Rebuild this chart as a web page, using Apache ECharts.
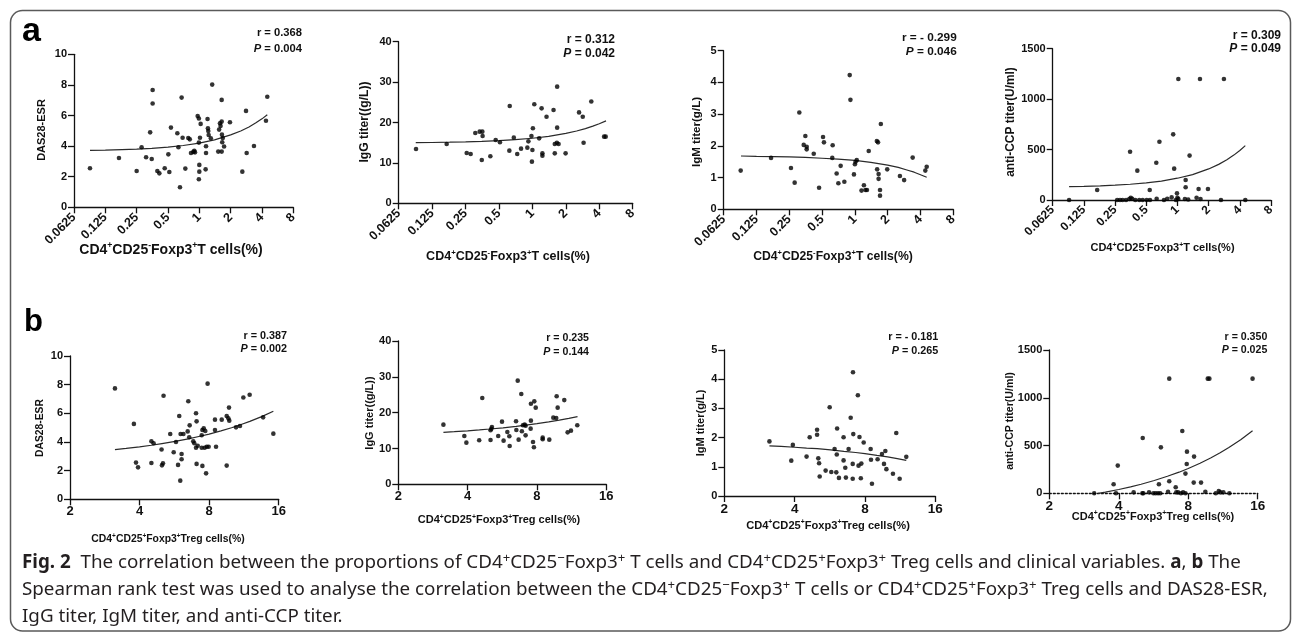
<!DOCTYPE html>
<html><head><meta charset="utf-8">
<script src="https://cdn.jsdelivr.net/npm/echarts@6/dist/echarts.min.js"></script>
<style>html,body{margin:0;padding:0;background:#fff}#c{width:1295px;height:634px}</style>
</head><body><div id="c"></div>
<script>
// ---------------- data ----------------
const xTicksA = [0.0625, 0.125, 0.25, 0.5, 1, 2, 4, 8];
const xTickLabelsA = ['0.0625', '0.125', '0.25', '0.5', '1', '2', '4', '8'];
const xTicksB = [2, 4, 8, 16];
const xTickLabelsB = ['2', '4', '8', '16'];

// a1: DAS28-ESR vs CD4+CD25-Foxp3+ T cells
const a1X = [0.089,0.169,0.25,0.279,0.308,0.337,0.349,0.356,0.356,0.395,0.413,0.465,0.504,0.515,0.534,0.615,0.63,0.652,0.676,0.691,0.734,0.784,0.81,0.832,0.876,0.895,0.909,0.964,0.99,0.99,1.0,1.0,0.99,1.015,1.03,1.15,1.16,1.16,1.20,1.21,1.22,1.23,1.29,1.33,1.52,1.55,1.58,1.60,1.64,1.64,1.64,1.65,1.66,1.68,1.73,1.97,2.59,2.81,2.85,3.35,4.37,4.5];
const a1Y = [2.55,3.22,2.37,3.92,3.27,4.90,3.16,7.67,6.78,2.37,2.22,2.55,3.46,2.31,5.21,4.84,3.92,1.31,7.17,4.55,2.53,4.53,4.44,3.55,3.62,3.70,3.59,5.97,5.80,4.23,2.77,2.33,1.83,4.55,5.45,2.48,3.99,3.55,5.77,5.16,4.99,4.73,4.51,8.02,3.64,5.08,5.49,5.32,5.60,7.02,3.64,4.75,4.25,4.53,3.97,5.56,2.33,6.30,3.55,4.01,5.66,7.23];
const a1FitX = [0.089,0.125,0.18,0.25,0.35,0.5,0.7,1,1.4,2,2.5,3,3.5,4,4.5];
const a1FitY = [3.72,3.74,3.77,3.80,3.85,3.93,4.04,4.20,4.41,4.73,4.99,5.25,5.52,5.78,6.05];

// a2: IgG titer vs CD4+CD25-Foxp3+ T cells
const a2X = [0.0895,0.169,0.256,0.278,0.306,0.335,0.354,0.356,0.35,0.418,0.467,0.51,0.62,0.625,0.68,0.73,0.79,0.90,0.92,0.98,0.99,1.0,1.01,1.04,1.15,1.21,1.23,1.23,1.34,1.55,1.59,1.59,1.66,1.67,1.67,1.72,1.99,2.63,2.84,2.89,3.39,4.42,4.57];
const a2Y = [13.44,14.68,12.45,12.2,17.4,17.73,17.73,16.66,10.72,11.63,15.67,15.1,13.03,24.08,16.25,12.2,13.53,13.77,15.34,16.66,10.31,13.2,18.56,24.5,16.08,23.5,12.37,11.79,21.44,23.1,12.37,14.68,15.0,28.87,18.72,14.68,12.37,22.5,21.44,15.0,25.2,16.5,16.5];
const a2FitX = [0.089,0.125,0.18,0.25,0.35,0.5,0.7,1,1.4,2,2.5,3,3.5,4,4.6];
const a2FitY = [15.0,15.05,15.12,15.2,15.32,15.5,15.74,16.1,16.58,17.29,17.89,18.49,19.09,19.69,20.4];

// a3: IgM titer vs CD4+CD25-Foxp3+ T cells
const a3X = [0.0895,0.170,0.259,0.280,0.309,0.351,0.339,0.361,0.361,0.419,0.469,0.51,0.52,0.625,0.62,0.68,0.705,0.74,0.80,0.896,0.91,0.98,1.0,1.014,1.04,1.15,1.21,1.25,1.29,1.34,1.59,1.63,1.60,1.65,1.65,1.70,1.70,1.73,1.98,2.59,2.83,3.39,4.43,4.56];
const a3Y = [1.22,1.62,1.30,0.84,3.05,2.31,2.03,1.97,1.89,1.75,0.68,2.28,2.11,2.02,1.62,1.13,0.82,1.37,0.87,4.23,3.45,1.10,1.42,1.50,1.55,0.59,0.76,0.61,0.61,1.84,2.15,2.11,1.26,1.11,0.96,0.61,0.43,2.69,1.26,1.05,0.92,1.63,1.22,1.34];
const a3FitX = [0.09,0.125,0.18,0.25,0.35,0.5,0.7,1,1.4,2,2.5,3,3.5,4,4.56];
const a3FitY = [1.68,1.67,1.66,1.65,1.64,1.61,1.58,1.54,1.48,1.39,1.32,1.24,1.17,1.09,1.01];

// a4: anti-CCP titer vs CD4+CD25-Foxp3+ T cells
const a4X = [0.09,0.168,0.262,0.279,0.296,0.319,0.343,0.349,0.354,0.366,0.392,0.41,0.428,0.462,0.505,0.54,0.543,0.625,0.63,0.67,0.741,0.797,0.879,0.91,0.93,0.967,0.99,1.0,1.02,1.02,1.18,1.2,1.2,1.27,1.31,1.53,1.6,1.65,1.67,1.97,2.63,2.81,4.52];
const a4Y = [0,99,0,0,0,0,10,479,23,13,0,291,0,0,0,99,0,370,13,578,0,13,26,651,311,0,66,23,10,1200,10,126,198,5,440,23,109,1200,10,109,0,1200,0];
const a4FitX = [0.09,0.125,0.18,0.25,0.35,0.5,0.7,1,1.4,2,2.5,3,3.5,4,4.52];
const a4FitY = [132,135,140,147,156,170,188,216,252,308,353,399,445,491,539];

// b1: DAS28-ESR vs CD4+CD25+Foxp3+ Treg cells
const b1X = [3.13,3.78,3.86,3.94,4.50,4.60,4.50,4.98,5.0,5.05,5.08,5.43,5.62,5.75,5.87,5.94,6.0,6.02,6.08,6.08,6.19,6.46,6.50,6.59,6.56,6.83,6.90,7.02,7.02,7.06,7.06,7.14,7.43,7.43,7.48,7.48,7.58,7.65,7.70,7.76,7.81,7.88,7.96,8.48,8.48,8.57,9.07,9.53,9.53,9.69,9.78,9.75,10.46,10.88,11.25,11.98,13.7,15.17];
const b1Y = [7.74,5.26,2.56,2.23,4.05,3.91,2.53,3.47,2.37,2.51,7.23,4.56,3.28,4.0,2.40,5.81,1.30,4.56,3.16,2.79,4.56,4.74,6.84,5.16,4.33,4.05,3.91,6.0,3.6,5.44,2.47,3.74,4.47,3.6,4.84,2.33,4.95,3.6,4.77,1.81,3.67,8.07,3.67,5.56,4.84,3.67,5.56,2.35,5.81,5.65,5.49,6.4,5.02,5.12,7.1,7.3,5.72,4.58];
const b1FitX = [3.13,3.5,4,4.5,5,5.7,6.5,7.3,8,9,10,11,12,13.5,15.17];
const b1FitY = [3.47,3.55,3.66,3.77,3.89,4.04,4.22,4.40,4.55,4.77,4.99,5.22,5.44,5.77,6.14];

// b2: IgG titer vs CD4+CD25+Foxp3+ Treg cells
const b2X = [3.14,3.87,3.95,4.49,4.63,5.03,5.03,5.10,5.07,5.43,5.64,5.73,5.95,6.07,6.09,6.49,6.51,6.60,6.66,6.84,6.88,6.95,7.07,7.14,7.14,7.51,7.53,7.53,7.69,7.79,7.76,7.90,8.47,8.47,9.05,9.42,9.70,9.74,9.84,10.51,10.87,11.24,11.97];
const b2Y = [16.65,13.49,11.63,12.28,24.1,12.37,15.07,16.0,15.5,13.49,17.49,12.19,14.6,13.4,10.7,17.58,15.16,28.93,12.47,25.2,14.79,16.47,16.65,13.67,16.37,15.53,22.5,17.77,11.81,23.16,10.33,21.4,13.02,12.56,12.47,18.6,18.5,24.56,21.4,23.5,14.5,14.98,16.47];
const b2FitX = [3.14,3.5,4,4.5,5,5.7,6.5,7.3,8,9,10,11,12];
const b2FitY = [14.5,14.68,14.93,15.18,15.43,15.77,16.17,16.57,16.92,17.41,17.91,18.41,18.9];

// b3: IgM titer vs CD4+CD25+Foxp3+ Treg cells
const b3X = [3.12,3.87,3.93,4.50,4.64,4.99,4.99,5.05,5.09,5.12,5.43,5.65,5.74,5.93,6.03,6.06,6.08,6.19,6.48,6.48,6.59,6.63,6.81,6.95,7.11,7.09,7.09,7.13,7.46,7.51,7.58,7.68,7.72,7.9,8.46,8.49,8.57,9.06,9.46,9.65,9.78,9.88,10.54,10.89,11.26,12.02];
const b3Y = [1.87,1.21,1.75,1.35,2.01,2.27,2.10,1.29,1.12,0.67,0.87,3.04,0.82,1.61,0.81,1.42,2.31,0.62,2.01,1.22,0.97,0.63,1.61,2.68,4.24,1.10,0.59,2.12,3.45,1.04,2.02,0.61,1.11,1.83,1.61,1.24,0.42,1.26,1.44,1.10,1.54,0.92,0.76,2.16,0.59,1.34];
const b3FitX = [3.12,3.5,4,4.5,5,5.7,6.5,7.3,8,9,10,11,12.02];
const b3FitY = [1.72,1.70,1.67,1.64,1.62,1.58,1.53,1.49,1.45,1.39,1.34,1.28,1.22];

// b4: anti-CCP titer vs CD4+CD25+Foxp3+ Treg cells
const b4X = [3.13,3.80,3.96,3.89,4.64,5.08,5.06,5.11,5.41,5.65,5.78,5.92,5.97,6.09,6.05,6.54,6.62,6.62,7.06,7.10,7.23,7.44,7.54,7.60,7.78,7.88,7.90,7.78,8.45,8.48,9.09,9.49,9.72,9.88,10.53,10.85,11.04,11.36,12.06,15.2];
const b4Y = [0,94,290,0,10,579,0,0,10,0,0,0,94,481,0,17,126,1200,63,10,10,0,652,10,206,307,436,0,112,384,112,17,1200,1200,0,24,10,10,0,1200];
const b4FitX = [3.26,3.5,4,4.5,5,5.7,6.5,7.3,8,9,10,11,12,13.5,15.2];
const b4FitY = [0,13,40,68,95,134,178,221,260,315,369,424,479,561,654];

const yNames = ['DAS28-ESR', 'IgG titer((g/L))', 'IgM titer(g/L)', 'anti-CCP titer(U/ml)'];
const rTexts = ['r = 0.368', 'r = 0.312', 'r = - 0.299', 'r = 0.309', 'r = 0.387', 'r = 0.235', 'r = - 0.181', 'r = 0.350'];
const pTexts = ['0.004', '0.042', '0.046', '0.049', '0.002', '0.144', '0.265', '0.025'];
const xNameA = [['CD4', 0], ['+', 1], ['CD25', 0], ['-', 1], ['Foxp3', 0], ['+', 1], ['T cells(%)', 0]];
const xNameB = [['CD4', 0], ['+', 1], ['CD25', 0], ['+', 1], ['Foxp3', 0], ['+', 1], ['Treg cells(%)', 0]];

// ---------------- layout / style ----------------
const FONT = '"Liberation Sans", Arial, Helvetica, sans-serif';
const CAPFONT = '"Noto Sans", "Open Sans", sans-serif';
const INK = '#111';

const panels = [
  {X:a1X, Y:a1Y, FX:a1FitX, FY:a1FitY, row:'a', g:[74,54.3,219.3,153],   yMax:10,   yInt:2,   yN:[42,130,11],     xN:[171,250,14],      rp:[302,33,49,11.2],     xFs:12.5},
  {X:a2X, Y:a2Y, FX:a2FitX, FY:a2FitY, row:'a', g:[398.7,41.7,234,161.6], yMax:40,  yInt:10,  yN:[365,122,12.2],  xN:[508,256.7,12.5],  rp:[615,39.3,53.3,12],   xFs:12.5},
  {X:a3X, Y:a3Y, FX:a3FitX, FY:a3FitY, row:'a', g:[723.7,50.7,229.6,158.6], yMax:5, yInt:1,   yN:[696.7,132,11.6],xN:[833,256.7,12.2],  rp:[956.7,37.3,51.7,11.8], xFs:12.5},
  {X:a4X, Y:a4Y, FX:a4FitX, FY:a4FitY, row:'a', g:[1052.7,48.7,218.3,151.3], yMax:1500, yInt:500, yN:[1011,122,11.9], xN:[1162.5,248.3,11], rp:[1281,35.7,49,12], xFs:12},
  {X:b1X, Y:b1Y, FX:b1FitX, FY:b1FitY, row:'b', g:[70,356,208.7,143.3],   yMax:10,   yInt:2,   yN:[40,428,10.3],   xN:[168,539.3,10.4],  rp:[287,336,349,10.8],   xFs:13},
  {X:b2X, Y:b2Y, FX:b2FitX, FY:b2FitY, row:'b', g:[398.3,341,208,143.3],  yMax:40,   yInt:10,  yN:[370,413,11],     xN:[499,520,11],      rp:[589,338.3,351.7,10.6], xFs:13},
  {X:b3X, Y:b3Y, FX:b3FitX, FY:b3FitY, row:'b', g:[724.3,350,211,146],    yMax:5,    yInt:1,   yN:[700.7,423,11],  xN:[828,525.7,11.1],  rp:[938.3,337.3,350.7,10.8], xFs:13.5},
  {X:b4X, Y:b4Y, FX:b4FitX, FY:b4FitY, row:'b', g:[1049.3,350,208.4,143.3], yMax:1500, yInt:500, yN:[1010,421,10.6], xN:[1153,516.7,11], rp:[1267.3,336.7,350,10.6], xFs:13.5, dotted:true}
];

const grids = [], xAxes = [], yAxes = [], series = [], graphics = [];

panels.forEach((p, i) => {
  const isA = p.row === 'a';
  const ticks = isA ? xTicksA : xTicksB;
  const labels = isA ? xTickLabelsA : xTickLabelsB;
  grids.push({left: p.g[0], top: p.g[1], width: p.g[2], height: p.g[3], containLabel: false});
  xAxes.push({
    gridIndex: i, type: 'log', logBase: 2, min: ticks[0], max: ticks[ticks.length - 1], interval: 1,
    axisLine: {show: true, onZero: false, lineStyle: {color: INK, width: 1.3, type: p.dotted ? [2, 2] : 'solid'}},
    axisTick: {show: true, inside: false, length: 6, lineStyle: {color: INK, width: 1.3}},
    minorTick: {show: false}, splitLine: {show: false},
    axisLabel: {
      show: true, rotate: isA ? 45 : 0, margin: isA ? 8 : 6, fontSize: p.xFs, fontWeight: 'bold',
      fontFamily: FONT, color: INK, hideOverlap: false, showMinLabel: true, showMaxLabel: true,
      formatter: (v) => { const k = ticks.findIndex(t => Math.abs(t - v) <= t * 1e-6); return k >= 0 ? labels[k] : ''; }
    }
  });
  yAxes.push({
    gridIndex: i, type: 'value', min: 0, max: p.yMax, interval: p.yInt,
    axisLine: {show: true, onZero: false, lineStyle: {color: INK, width: 1.3}},
    axisTick: {show: true, inside: false, length: 6, lineStyle: {color: INK, width: 1.3}},
    splitLine: {show: false},
    axisLabel: {fontSize: 11, fontWeight: 'bold', fontFamily: FONT, color: INK, margin: 7, hideOverlap: false,
      formatter: (v) => String(v)}
  });
  series.push({
    type: 'line', xAxisIndex: i, yAxisIndex: i, data: p.FX.map((x, k) => [x, p.FY[k]]),
    showSymbol: false, smooth: false, lineStyle: {color: '#2a2a2a', width: 1.2}, z: 2, silent: true
  });
  series.push({
    type: 'scatter', xAxisIndex: i, yAxisIndex: i, data: p.X.map((x, k) => [x, p.Y[k]]),
    symbol: 'circle', symbolSize: 4.6, itemStyle: {color: '#000'}, z: 3, silent: true
  });

  // y-axis name
  graphics.push({type: 'text', x: p.yN[0], y: p.yN[1], rotation: Math.PI / 2, style: {
    text: yNames[i % 4], align: 'center', verticalAlign: 'middle', fill: INK,
    fontSize: p.yN[2], fontWeight: 'bold', fontFamily: FONT}});
  // x-axis name with superscripts
  const parts = isA ? xNameA : xNameB;
  const fs = p.xN[2];
  graphics.push({type: 'text', x: p.xN[0], y: p.xN[1], style: {
    text: parts.map(([t, s]) => s ? '{s|' + t + '}' : '{n|' + t + '}').join(''),
    align: 'center', verticalAlign: 'middle',
    rich: {
      n: {fontSize: fs, fontWeight: 'bold', fontFamily: FONT, fill: INK, lineHeight: fs * 1.25},
      s: {fontSize: fs * 0.62, fontWeight: 'bold', fontFamily: FONT, fill: INK, lineHeight: fs * 0.6, verticalAlign: 'top'}
    }}});
  // r and P annotations
  const rf = p.rp[3];
  graphics.push({type: 'text', x: p.rp[0], y: p.rp[1], style: {
    text: rTexts[i], align: 'right', verticalAlign: 'middle', fill: INK, fontSize: rf, fontWeight: 'bold', fontFamily: FONT}});
  graphics.push({type: 'text', x: p.rp[0], y: p.rp[2], style: {
    text: '{i|P}{n| = ' + pTexts[i] + '}', align: 'right', verticalAlign: 'middle',
    rich: {
      i: {fontSize: rf, fontWeight: 'bold', fontStyle: 'italic', fontFamily: FONT, fill: INK},
      n: {fontSize: rf, fontWeight: 'bold', fontFamily: FONT, fill: INK}
    }}});
});

// frame and panel letters
graphics.push({type: 'rect', shape: {x: 10.5, y: 10.5, width: 1280, height: 620.5, r: 12},
  style: {fill: 'none', stroke: '#5a5a5a', lineWidth: 1.5}, z: -10});
graphics.push({type: 'text', x: 22, y: 32, style: {text: 'a', align: 'left', verticalAlign: 'middle',
  fontSize: 34, fontWeight: 'bold', fontFamily: FONT, fill: '#000'}});
graphics.push({type: 'text', x: 24, y: 322, style: {text: 'b', align: 'left', verticalAlign: 'middle',
  fontSize: 31, fontWeight: 'bold', fontFamily: FONT, fill: '#000'}});

// caption
const CF = 18.8;
const capRich = {
  n: {fontSize: CF, fontFamily: CAPFONT, fill: '#231f20', lineHeight: 23},
  b: {fontSize: CF, fontFamily: CAPFONT, fontWeight: 'bold', fill: '#231f20', lineHeight: 23},
  s: {fontSize: CF * 0.7, fontFamily: CAPFONT, fill: '#231f20', lineHeight: 11, verticalAlign: 'top'}
};
const capLines = [
  '{b|Fig. 2}{n|  The correlation between the proportions of CD4}{s|+}{n|CD25}{s|−}{n|Foxp3}{s|+}{n| T cells and CD4}{s|+}{n|CD25}{s|+}{n|Foxp3}{s|+}{n| Treg cells and clinical variables. }{b|a}{n|, }{b|b}{n| The}',
  '{n|Spearman rank test was used to analyse the correlation between the CD4}{s|+}{n|CD25}{s|−}{n|Foxp3}{s|+}{n| T cells or CD4}{s|+}{n|CD25}{s|+}{n|Foxp3}{s|+}{n| Treg cells and DAS28-ESR,}',
  '{n|IgG titer, IgM titer, and anti-CCP titer.}'
];
const capY = [563, 590, 617];
capLines.forEach((t, k) => graphics.push({type: 'text', x: 22, y: capY[k], style: {
  text: t, align: 'left', verticalAlign: 'middle', rich: capRich}}));

const chart = echarts.init(document.getElementById('c'), null, {renderer: 'canvas'});
chart.setOption({
  animation: false, backgroundColor: '#fff',
  grid: grids, xAxis: xAxes, yAxis: yAxes, series: series, graphic: graphics
});
</script></body></html>
